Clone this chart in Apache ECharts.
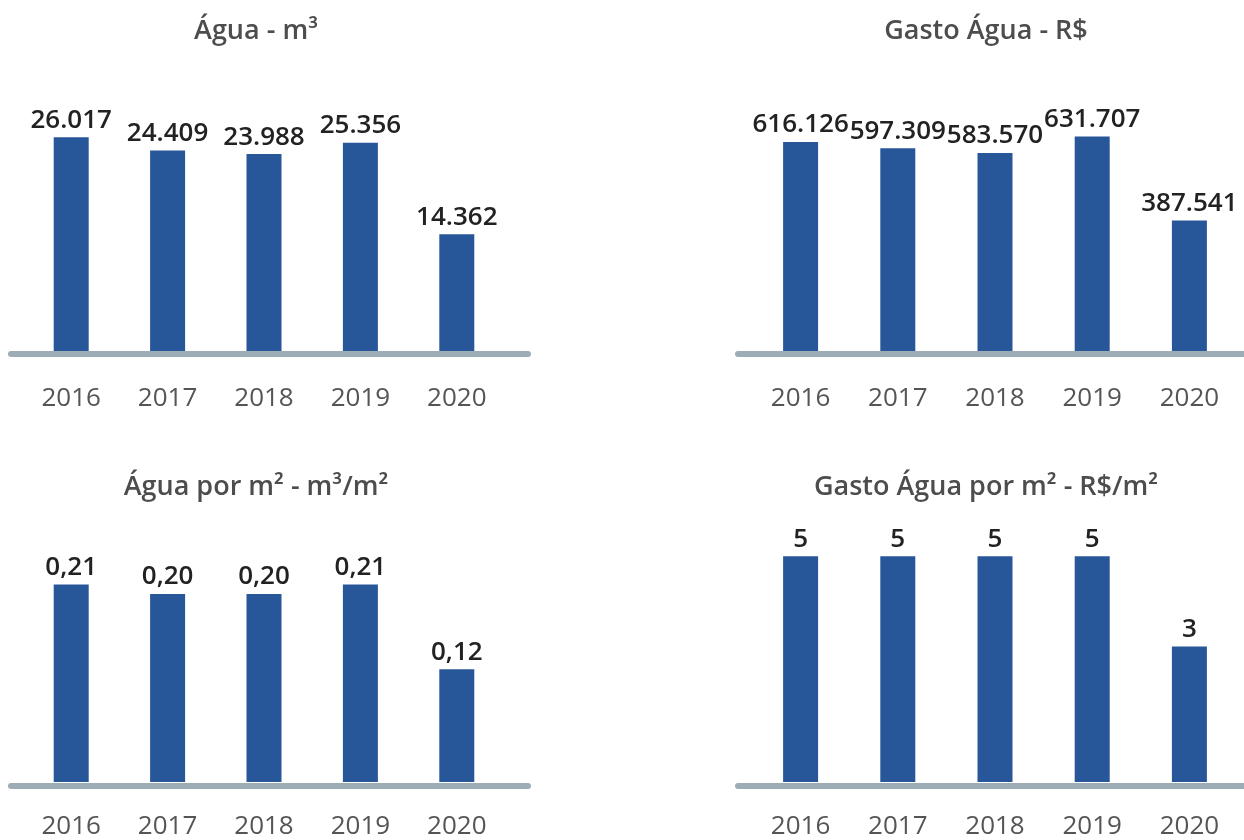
<!DOCTYPE html>
<html>
<head>
<meta charset="utf-8">
<title>Água</title>
<script src="https://cdn.jsdelivr.net/npm/echarts@6/dist/echarts.min.js"></script>
<style>
  html, body { margin: 0; padding: 0; background: #fff; }
  #chart { width: 1244px; height: 840px; }
</style>
</head>
<body>
<div id="chart"></div>
<script>
const years = ['2016', '2017', '2018', '2019', '2020']
const aguaM3 = [26017, 24409, 23988, 25356, 14362]
const gastoAgua = [616126, 597309, 583570, 631707, 387541]
const aguaPorM2 = [0.21, 0.20, 0.20, 0.21, 0.12]
const gastoPorM2 = [5, 5, 5, 5, 3]
const titles = ['Água - m³', 'Gasto Água - R$', 'Água por m² - m³/m²', 'Gasto Água por m² - R$/m²']

const BAR = '#285799'
const LINE = '#9dadb5'
const FONT = '"Open Sans", "Noto Sans", sans-serif'

// 26017 -> "26.017", 0.21 -> "0,21"
function fmt(v, decimals) {
  if (decimals) return v.toFixed(decimals).replace('.', ',')
  return String(Math.round(v)).replace(/\B(?=(\d{3})+(?!\d))/g, '.')
}

// one panel: grid for the bars, a wider grid just for the grey base line
const panels = [
  { data: aguaM3, dec: 0, max: 30000, band: [23, 505], line: [11, 528], base: 354, top: 104, titleX: 251, titleY: 13 },
  { data: gastoAgua, dec: 0, max: 700000, band: [752, 1238], line: [738, 1244], base: 354, top: 113, titleX: 981, titleY: 13 },
  { data: aguaPorM2, dec: 2, max: 0.25, band: [23, 505], line: [11, 528], base: 786, top: 547, titleX: 251, titleY: 469 },
  { data: gastoPorM2, dec: 0, max: 6, band: [752, 1238], line: [738, 1244], base: 786, top: 511, titleX: 981, titleY: 469 }
]

const W = 1244, H = 840
const grid = [], xAxis = [], yAxis = [], series = [], title = []

panels.forEach((p, i) => {
  grid.push({
    left: p.band[0], right: W - p.band[1], top: p.top, bottom: H - p.base
  })
  grid.push({
    left: p.line[0], right: W - p.line[1], top: p.base - 10, bottom: H - p.base
  })
  xAxis.push({
    type: 'category', gridIndex: i * 2, data: years,
    axisLine: { show: false }, axisTick: { show: false },
    axisLabel: { margin: 32, fontSize: 26, color: '#555', fontFamily: FONT }
  })
  xAxis.push({
    type: 'value', gridIndex: i * 2 + 1, min: 0, max: 1, z: 5,
    axisLine: { show: true, lineStyle: { color: LINE, width: 6 } },
    axisTick: { show: false }, axisLabel: { show: false }, splitLine: { show: false }
  })
  yAxis.push({
    type: 'value', gridIndex: i * 2, min: 0, max: p.max, show: false
  })
  yAxis.push({
    type: 'value', gridIndex: i * 2 + 1, min: 0, max: 1, show: false
  })
  series.push({
    type: 'bar', xAxisIndex: i * 2, yAxisIndex: i * 2, data: p.data,
    barWidth: 35, itemStyle: { color: BAR },
    label: {
      show: true, position: 'top', distance: 4,
      fontSize: 26, fontWeight: 600, color: '#222', fontFamily: FONT,
      formatter: d => fmt(d.value, p.dec)
    }
  })
  title.push({
    text: titles[i], left: p.titleX, top: p.titleY, textAlign: 'center',
    textStyle: { fontSize: 27, fontWeight: 600, color: '#4d4d4d', fontFamily: FONT }
  })
})

const chart = echarts.init(document.getElementById('chart'))
chart.setOption({
  animation: false,
  title, grid, xAxis, yAxis, series
})
window.addEventListener('resize', () => chart.resize())
</script>
</body>
</html>
